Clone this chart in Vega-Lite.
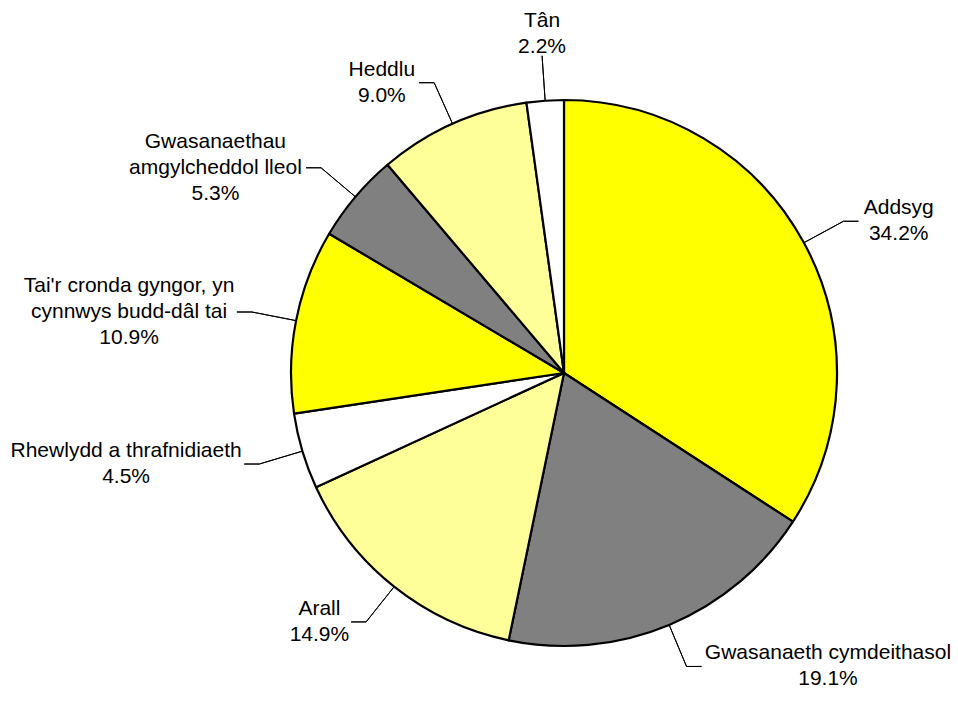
{
  "$schema": "https://vega.github.io/schema/vega-lite/v6.json",
  "width": 788,
  "height": 658,
  "autosize": "none",
  "padding": {"left": 170, "top": 44, "right": 0, "bottom": 0},
  "background": "white",
  "view": {"stroke": null},
  "data": {
    "values": [
      {"label": "Addsyg", "value": 34.2},
      {"label": "Gwasanaeth cymdeithasol", "value": 19.1},
      {"label": "Arall", "value": 14.9},
      {"label": "Rhewlydd a thrafnidiaeth", "value": 4.5},
      {"label": "Tai'r cronda gyngor, yn\ncynnwys budd-dâl tai", "value": 10.9},
      {"label": "Gwasanaethau\namgylcheddol lleol", "value": 5.3},
      {"label": "Heddlu", "value": 9.0},
      {"label": "Tân", "value": 2.2}
    ]
  },
  "transform": [
    {"window": [{"op": "row_number", "as": "i"}]},
    {"stack": "value", "groupby": [], "sort": [{"field": "i", "order": "ascending"}], "as": ["s0", "s1"]}
  ],
  "layer": [
    {
      "mark": {"type": "arc", "radius": 273, "stroke": "#000000", "strokeWidth": 2.2, "strokeJoin": "round"},
      "encoding": {
        "theta": {"field": "value", "type": "quantitative", "stack": true},
        "order": {"field": "i", "type": "quantitative"},
        "color": {
          "field": "label",
          "type": "nominal",
          "legend": null,
          "sort": null,
          "scale": {
            "domain": ["Addsyg", "Gwasanaeth cymdeithasol", "Arall", "Rhewlydd a thrafnidiaeth", "Tai'r cronda gyngor, yn\ncynnwys budd-dâl tai", "Gwasanaethau\namgylcheddol lleol", "Heddlu", "Tân"],
            "range": ["#FFFF00", "#808080", "#FFFF99", "#FFFFFF", "#FFFF00", "#808080", "#FFFF99", "#FFFFFF"]
          }
        }
      }
    },
    {
      "mark": {
        "type": "arc",
        "filled": false,
        "stroke": "#000000",
        "strokeWidth": 1,
        "theta": {"expr": "scale('theta',(datum.s0+datum.s1)/2)"},
        "theta2": {"expr": "scale('theta',(datum.s0+datum.s1)/2)"},
        "radius": 318,
        "radius2": 273
      },
      "encoding": {}
    },
    {
      "mark": {
        "type": "arc",
        "filled": false,
        "stroke": "#000000",
        "strokeWidth": 1,
        "x": {"expr": "width/2+318*sin(scale('theta',(datum.s0+datum.s1)/2))"},
        "y": {"expr": "height/2-318*cos(scale('theta',(datum.s0+datum.s1)/2))"},
        "theta": {"expr": "sin(scale('theta',(datum.s0+datum.s1)/2))>0?PI/2:3*PI/2"},
        "theta2": {"expr": "sin(scale('theta',(datum.s0+datum.s1)/2))>0?PI/2:3*PI/2"},
        "radius": {"expr": "abs(sin(scale('theta',(datum.s0+datum.s1)/2)))<0.2?0:15"},
        "radius2": 0
      },
      "encoding": {}
    },
    {
      "mark": {
        "type": "text",
        "theta": {"expr": "scale('theta',(datum.s0+datum.s1)/2)"},
        "radius": 318,
        "align": "center",
        "baseline": "middle",
        "font": "Liberation Sans",
        "fontSize": 21,
        "lineHeight": 26,
        "fill": "#000000",
        "text": {"expr": "split(datum.label+'\\n'+format(datum.value,'.1f')+'%','\\n')"},
        "dx": {"expr": "abs(sin(scale('theta',(datum.s0+datum.s1)/2)))<0.2?0:(sin(scale('theta',(datum.s0+datum.s1)/2))>0?1:-1)*(19+max((10.2*length(split(datum.label,'\\n')[0])+5.8*length(replace(split(datum.label,'\\n')[0],regexp(\"[iljtfr' .,-]\",\"g\"),''))-4.7*length(replace(split(datum.label,'\\n')[0],regexp(\"[mwAGHMNRUVW%]\",\"g\"),''))),(10.2*length(split(datum.label,'\\n')[1]||'')+5.8*length(replace(split(datum.label,'\\n')[1]||'',regexp(\"[iljtfr' .,-]\",\"g\"),''))-4.7*length(replace(split(datum.label,'\\n')[1]||'',regexp(\"[mwAGHMNRUVW%]\",\"g\"),''))),(10.2*length(format(datum.value,'.1f')+'%')+5.8*length(replace(format(datum.value,'.1f')+'%',regexp(\"[iljtfr' .,-]\",\"g\"),''))-4.7*length(replace(format(datum.value,'.1f')+'%',regexp(\"[mwAGHMNRUVW%]\",\"g\"),''))))/2)"},
        "dy": {"expr": "-13*length(split(datum.label,'\\n'))+(abs(sin(scale('theta',(datum.s0+datum.s1)/2)))<0.2?-22:0)"}
      },
      "encoding": {}
    }
  ]
}
